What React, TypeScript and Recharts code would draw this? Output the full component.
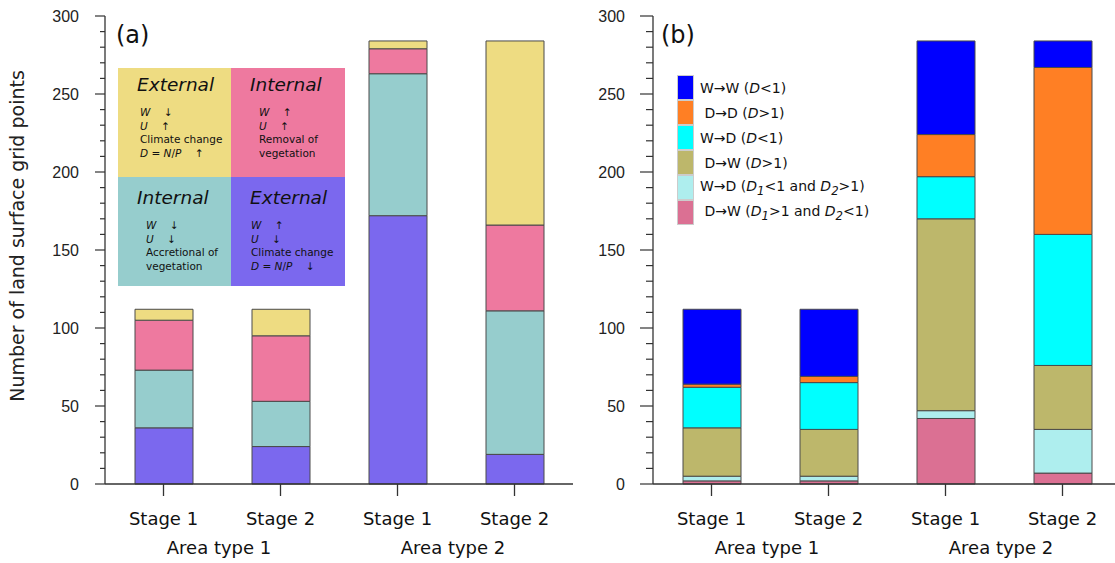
import React from 'react';
import { BarChart, Bar, XAxis, YAxis } from 'recharts';

// categories
const stages = ['Stage 1', 'Stage 2', 'Stage 1', 'Stage 2'];
const areas = ['Area type 1', 'Area type 1', 'Area type 2', 'Area type 2'];
const yTicks = [0, 10, 20, 30, 40, 50, 60, 70, 80, 90, 100, 110, 120, 130, 140, 150,
  160, 170, 180, 190, 200, 210, 220, 230, 240, 250, 260, 270, 280, 290, 300];

// panel (a), stacked bottom -> top
const extWetter = [36, 24, 172, 19];
const intAccretion = [37, 29, 91, 92];
const intRemoval = [32, 42, 16, 55];
const extDrier = [7, 17, 5, 118];

// panel (b), stacked bottom -> top
const dwMixed = [2, 2, 42, 7];
const wdMixed = [3, 3, 5, 28];
const dwDry = [31, 30, 123, 41];
const wdWet = [26, 30, 27, 84];
const ddDry = [2, 4, 27, 107];
const wwWet = [48, 43, 60, 17];

const C = {
  yellow: '#EEDC82', pink: '#EE799F', teal: '#96CDCD', purple: '#7B68EE',
  blue: '#0000FF', orange: '#FF7F24', cyan: '#00FFFF', olive: '#BDB76B',
  lightCyan: '#AEEEEE', rose: '#DB7093',
};
const AX = '#333';
const SANS = '"DejaVu Sans", Verdana, sans-serif';
const ARIAL = '"Liberation Sans", Arial, sans-serif';

const dataA = stages.map((s, i) => ({
  stage: s, area: areas[i],
  extWetter: extWetter[i], intAccretion: intAccretion[i], intRemoval: intRemoval[i], extDrier: extDrier[i],
}));
const dataB = stages.map((s, i) => ({
  stage: s, area: areas[i],
  dwMixed: dwMixed[i], wdMixed: wdMixed[i], dwDry: dwDry[i], wdWet: wdWet[i], ddDry: ddDry[i], wwWet: wwWet[i],
}));

const seriesA = [
  { key: 'extWetter', fill: C.purple },
  { key: 'intAccretion', fill: C.teal },
  { key: 'intRemoval', fill: C.pink },
  { key: 'extDrier', fill: C.yellow },
];
const seriesB = [
  { key: 'dwMixed', fill: C.rose },
  { key: 'wdMixed', fill: C.lightCyan },
  { key: 'dwDry', fill: C.olive },
  { key: 'wdWet', fill: C.cyan },
  { key: 'ddDry', fill: C.orange },
  { key: 'wwWet', fill: C.blue },
];

const makeYTick = (major: number, minor: number, gap: number) => ({ x, y, payload }: any) => {
  const isMajor = payload.value % 50 === 0;
  return (
    <g>
      <line x1={x - (isMajor ? major : minor)} x2={x} y1={y} y2={y} stroke={AX} strokeWidth={1.2} />
      {isMajor && (
        <text x={x - gap} y={y} textAnchor="end" dominantBaseline="central"
          fontFamily={ARIAL} fontSize={16} fill="#222">{payload.value}</text>
      )}
    </g>
  );
};

const StageTick = ({ x, y, payload }: any) => (
  <g>
    <line x1={x} x2={x} y1={y} y2={y + 12} stroke={AX} strokeWidth={1.3} />
    <text x={x} y={y + 41} textAnchor="middle" fontFamily={SANS} fontSize={18} fill="#111">{payload.value}</text>
  </g>
);

const AreaTick = ({ x, y, payload }: any) => (
  <text x={x - 3} y={y + 25} textAnchor="middle" fontFamily={SANS} fontSize={18} fill="#111">{payload.value}</text>
);

function Panel({ data, series, major, minor, gap }: any) {
  return (
    <BarChart width={580} height={563} data={data} margin={{ top: 16, right: 7, left: 0, bottom: 0 }}
      barSize={58}>
      <XAxis dataKey="stage" height={45} tickSize={0} tickMargin={0} interval={0}
        axisLine={{ stroke: AX, strokeWidth: 1.3 }} tickLine={false} tick={<StageTick />} />
      <XAxis xAxisId="area" dataKey="area" allowDuplicatedCategory={false} height={34}
        tickSize={0} tickMargin={0} interval={0} axisLine={false} tickLine={false} tick={<AreaTick />} />
      <XAxis xAxisId="top" orientation="top" dataKey="stage" height={0} tick={false} tickLine={false}
        axisLine={{ stroke: AX, strokeWidth: 1.3 }} />
      <YAxis width={105} domain={[0, 300]} ticks={yTicks} interval={0} tickSize={0} tickMargin={0}
        axisLine={{ stroke: AX, strokeWidth: 1.3 }} tickLine={false} tick={makeYTick(major, minor, gap)} />
      <YAxis yAxisId="right" orientation="right" width={0} domain={[0, 300]} tick={false} tickLine={false}
        axisLine={{ stroke: AX, strokeWidth: 1.3 }} />
      {series.map((s: any) => (
        <Bar key={s.key} dataKey={s.key} stackId="s" fill={s.fill} stroke="#4a4a4a" strokeWidth={1}
          isAnimationActive={false} />
      ))}
    </BarChart>
  );
}

const quadrants = [
  { title: 'External', fill: C.yellow, indent: 22, top: 0, lines: [['W', '↓'], ['U', '↑']], text: ['Climate change'], formula: '↑' },
  { title: 'Internal', fill: C.pink, indent: 28, top: 0, lines: [['W', '↑'], ['U', '↑']], text: ['Removal of', 'vegetation'], formula: null },
  { title: 'Internal', fill: C.teal, indent: 28, top: 4, lines: [['W', '↓'], ['U', '↓']], text: ['Accretional of', 'vegetation'], formula: null },
  { title: 'External', fill: C.purple, indent: 20, top: 4, lines: [['W', '↑'], ['U', '↓']], text: ['Climate change'], formula: '↓' },
];

const legendB = [
  { fill: C.blue, label: <>W→W (<i>D</i>&lt;1)</> },
  { fill: C.orange, label: <>&nbsp;D→D (<i>D</i>&gt;1)</> },
  { fill: C.cyan, label: <>W→D (<i>D</i>&lt;1)</> },
  { fill: C.olive, label: <>&nbsp;D→W (<i>D</i>&gt;1)</> },
  { fill: C.lightCyan, label: <>W→D (<i>D<sub>1</sub></i>&lt;1 and <i>D<sub>2</sub></i>&gt;1)</> },
  { fill: C.rose, label: <>&nbsp;D→W (<i>D<sub>1</sub></i>&gt;1 and <i>D<sub>2</sub></i>&lt;1)</> },
];

export default function App() {
  return (
    <div style={{ position: 'absolute', left: 0, top: 0, width: 1115, height: 563, overflow: 'hidden', background: '#fff' }}>
      <div style={{ position: 'absolute', left: 0, top: 0 }}>
        <Panel data={dataA} series={seriesA} major={10} minor={5} gap={26} />
      </div>
      <div style={{ position: 'absolute', left: 548, top: 0 }}>
        <Panel data={dataB} series={seriesB} major={13} minor={7} gap={28} />
      </div>

      <svg style={{ position: 'absolute', left: 0, top: 0 }} width={1115} height={563} pointerEvents="none">
        <text transform="translate(24,236) rotate(-90)" textAnchor="middle" fontFamily={SANS} fontSize={19} fill="#222">
          Number of land surface grid points
        </text>
        <text x={116} y={43} fontFamily={SANS} fontSize={24} fill="#111">(a)</text>
        <text x={661} y={43} fontFamily={SANS} fontSize={24} fill="#111">(b)</text>
      </svg>

      {/* panel (a) key */}
      <div style={{ position: 'absolute', left: 118, top: 68, width: 227, height: 218, display: 'grid',
        gridTemplateColumns: '113px 114px', gridTemplateRows: '109px 109px', fontFamily: SANS, color: '#111' }}>
        {quadrants.map((q, i) => (
          <div key={i} style={{ background: q.fill, position: 'relative' }}>
            <div style={{ position: 'absolute', left: 19, top: 6 + q.top, fontSize: 18.5, fontStyle: 'italic' }}>{q.title}</div>
            <div style={{ position: 'absolute', left: q.indent, top: 38 + q.top, fontSize: 10.5, lineHeight: '13.5px', whiteSpace: 'pre' }}>
              {q.lines.map((l, j) => (
                <div key={j}><i>{l[0]}</i>{'    ' + l[1]}</div>
              ))}
              {q.text.map((t, j) => <div key={'t' + j}>{t}</div>)}
              {q.formula && <div><i>D</i> = <i>N</i>/<i>P</i>{'    ' + q.formula}</div>}
            </div>
          </div>
        ))}
      </div>

      {/* panel (b) key */}
      <div style={{ position: 'absolute', left: 677, top: 75, fontFamily: SANS, fontSize: 14, color: '#111' }}>
        {legendB.map((e, i) => (
          <div key={i} style={{ display: 'flex', alignItems: 'center', height: 25 }}>
            <div style={{ width: 17, height: 25, background: e.fill, boxSizing: 'border-box', border: '1px solid #ccc' }} />
            <div style={{ marginLeft: 6, whiteSpace: 'nowrap' }}>{e.label}</div>
          </div>
        ))}
      </div>
    </div>
  );
}
